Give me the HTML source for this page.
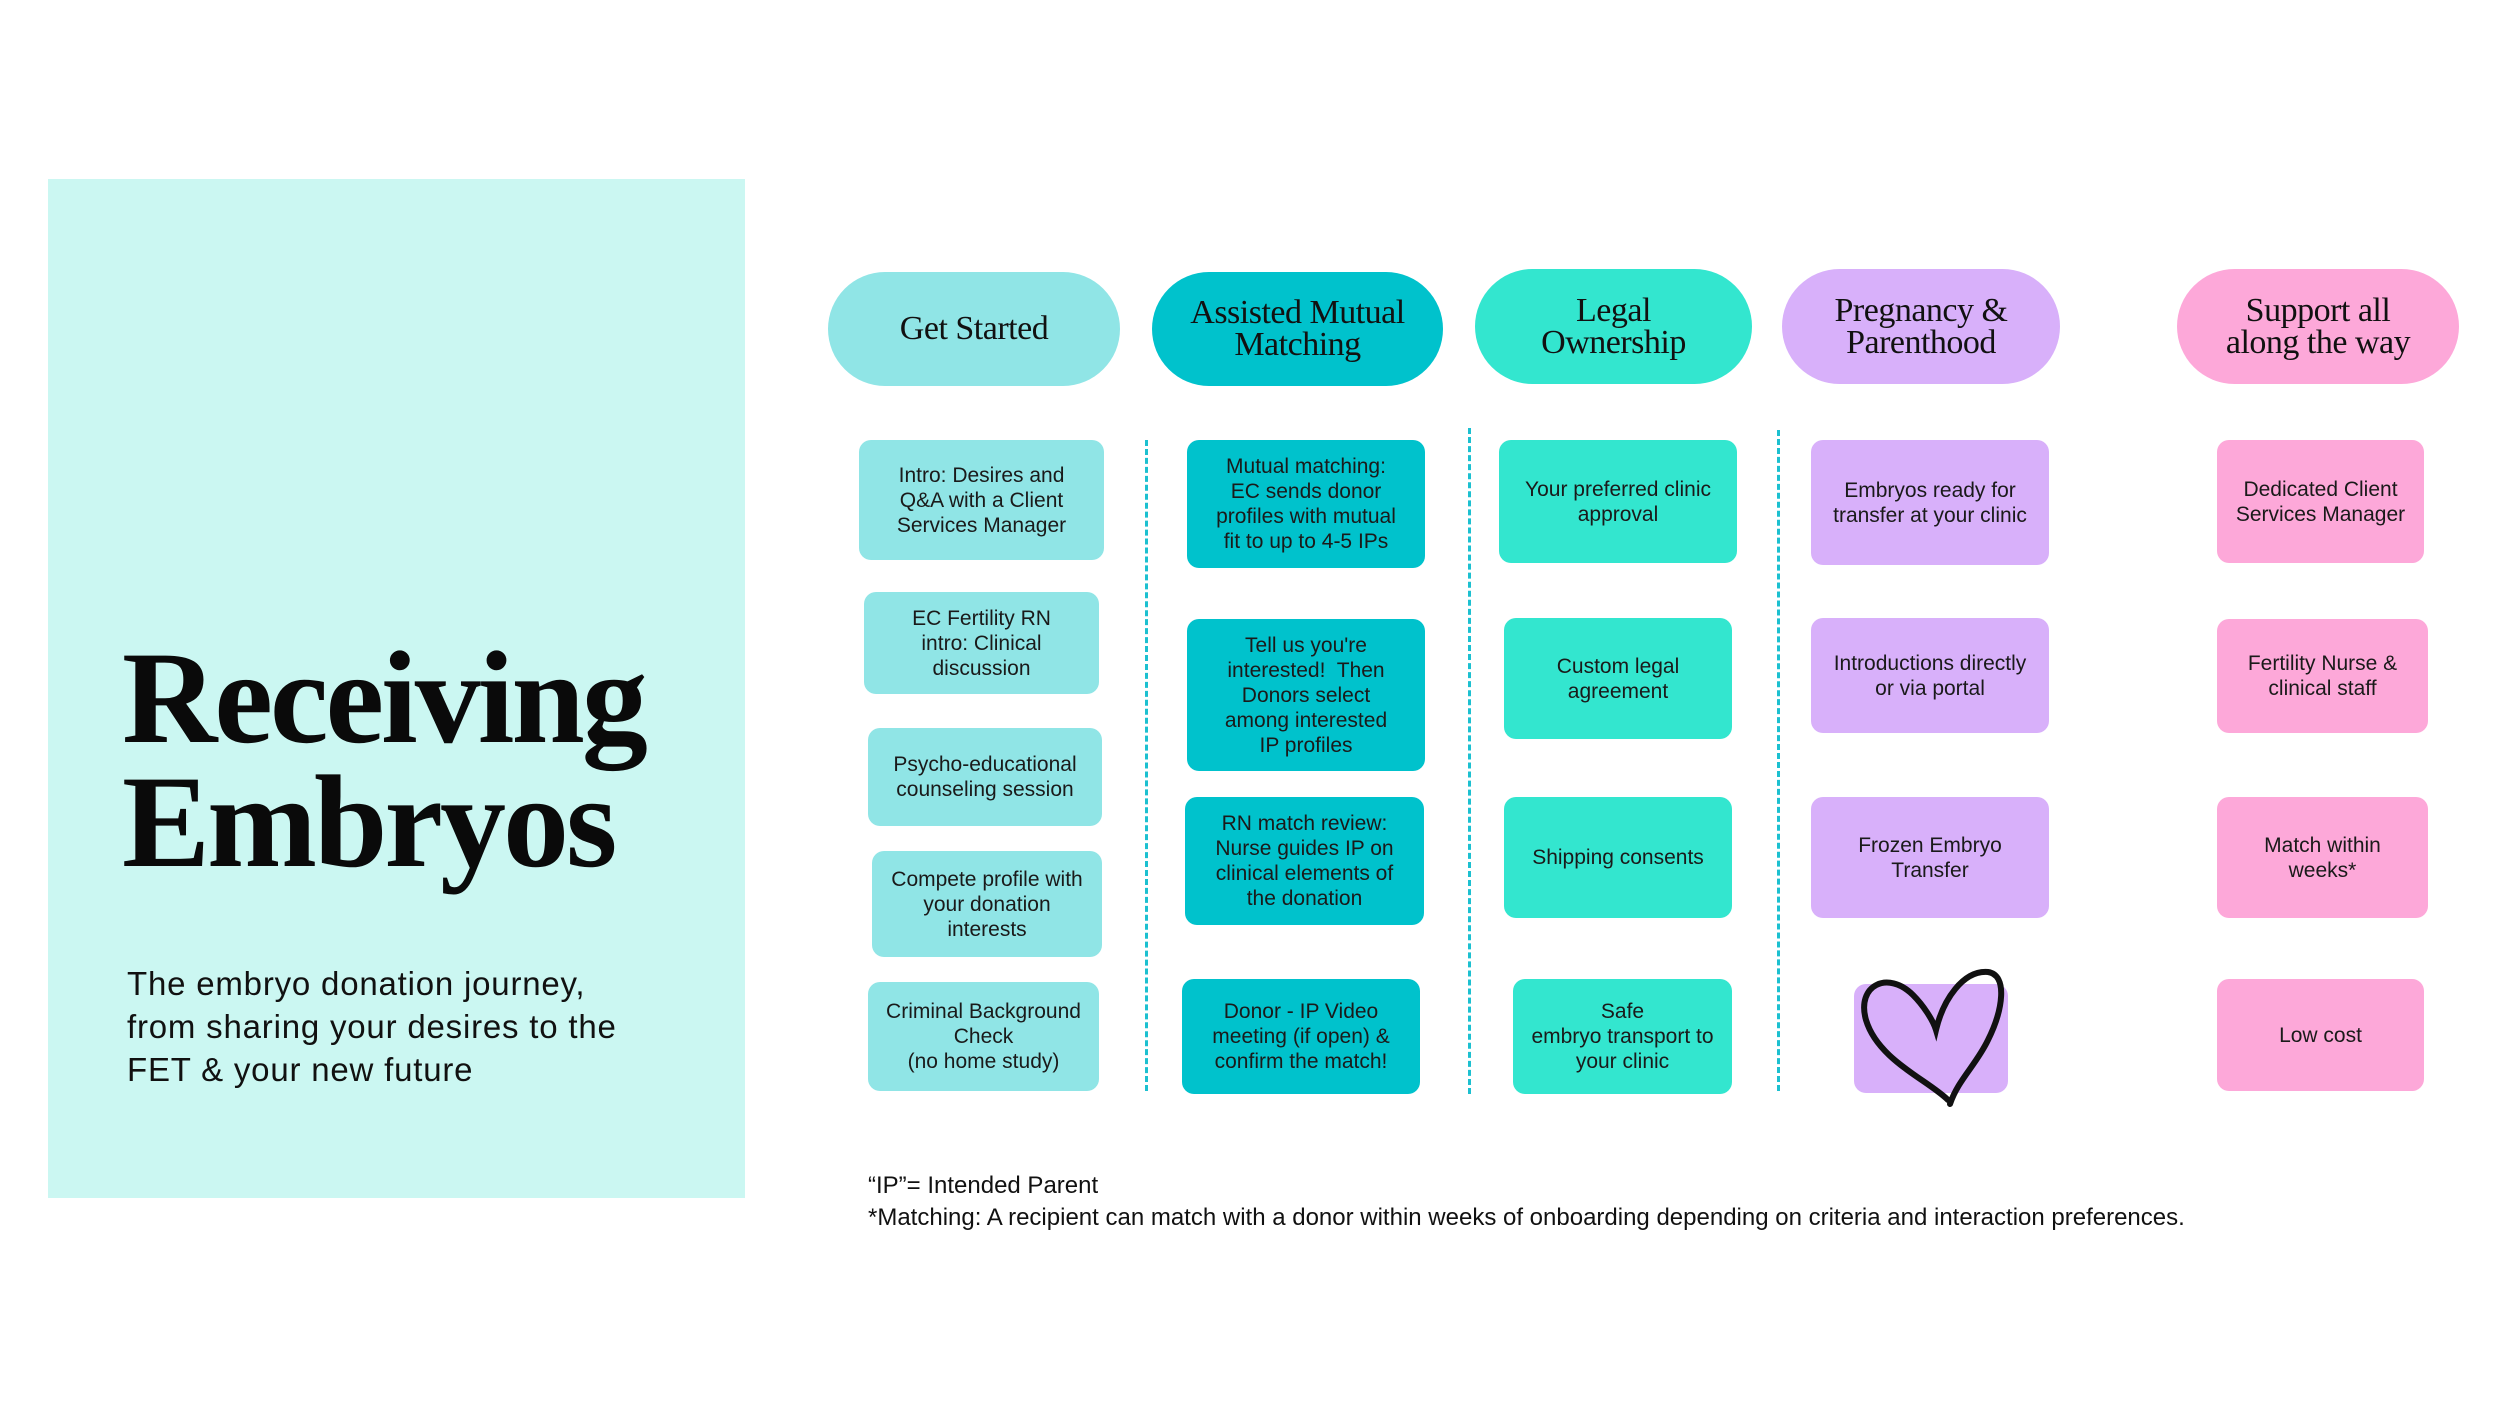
<!DOCTYPE html>
<html><head><meta charset="utf-8"><style>
body{margin:0;width:2500px;height:1406px;background:#fff;position:relative;overflow:hidden;font-family:"Liberation Sans",sans-serif;}
.a{position:absolute;box-sizing:border-box;}
.pill{position:absolute;border-radius:58px;display:flex;align-items:center;justify-content:center;text-align:center;font-family:"Liberation Serif",serif;font-size:34px;line-height:32px;color:#111;letter-spacing:-0.5px;}
.b{position:absolute;border-radius:12px;display:flex;align-items:center;justify-content:center;text-align:center;font-size:21px;line-height:25px;color:#1a1a1a;box-sizing:border-box;padding:0 22px;}
.c1{background:#90e5e6}.c2{background:#00c2cc}.c3{background:#33e6cf}.c4{background:#d8b0fa}.c5{background:#fda8d9}
.dl{position:absolute;width:0;border-left:3px dashed #1cc0d0;}
</style></head><body>
<div class="a" style="left:48px;top:179px;width:697px;height:1019px;background:#cbf7f2"></div>
<div class="a" style="left:122px;top:636px;font-family:'Liberation Serif',serif;font-weight:bold;font-size:132px;line-height:124px;color:#0a0a0a;letter-spacing:-3px">Receiving<br>Embryos</div>
<div class="a" style="left:127px;top:962px;font-size:33px;line-height:43px;color:#111;letter-spacing:0.8px">The embryo donation journey,<br>from sharing your desires to the<br>FET &amp; your new future</div>

<div class="pill c1" style="left:828px;top:272px;width:292px;height:114px">Get Started</div>
<div class="pill c2" style="left:1152px;top:272px;width:291px;height:114px">Assisted Mutual<br>Matching</div>
<div class="pill c3" style="left:1475px;top:269px;width:277px;height:115px">Legal<br>Ownership</div>
<div class="pill c4" style="left:1782px;top:269px;width:278px;height:115px">Pregnancy &amp;<br>Parenthood</div>
<div class="pill c5" style="left:2177px;top:269px;width:282px;height:115px">Support all<br>along the way</div>

<div class="dl" style="left:1145px;top:440px;height:651px"></div>
<div class="dl" style="left:1468px;top:428px;height:666px"></div>
<div class="dl" style="left:1777px;top:430px;height:661px"></div>

<div class="b c1" style="left:859px;top:440px;width:245px;height:120px">Intro: Desires and Q&amp;A with a Client Services Manager</div>
<div class="b c1" style="left:864px;top:592px;width:235px;height:102px;padding:0 40px">EC Fertility RN intro: Clinical discussion</div>
<div class="b c1" style="left:868px;top:728px;width:234px;height:98px">Psycho-educational counseling session</div>
<div class="b c1" style="left:872px;top:851px;width:230px;height:106px;padding:0 12px">Compete profile with your donation interests</div>
<div class="b c1" style="left:868px;top:982px;width:231px;height:109px;padding:0 10px">Criminal Background Check<br>(no home study)</div>

<div class="b c2" style="left:1187px;top:440px;width:238px;height:128px">Mutual matching: EC sends donor profiles with mutual fit to up to 4-5 IPs</div>
<div class="b c2" style="left:1187px;top:619px;width:238px;height:152px;padding:0 36px">Tell us you're interested!&nbsp; Then Donors select among interested IP profiles</div>
<div class="b c2" style="left:1185px;top:797px;width:239px;height:128px;padding:0 16px">RN match review: Nurse guides IP on clinical elements of the donation</div>
<div class="b c2" style="left:1182px;top:979px;width:238px;height:115px">Donor - IP Video meeting (if open) &amp; confirm the match!</div>

<div class="b c3" style="left:1499px;top:440px;width:238px;height:123px;padding:0 10px">Your preferred clinic approval</div>
<div class="b c3" style="left:1504px;top:618px;width:228px;height:121px;padding:0 40px">Custom legal agreement</div>
<div class="b c3" style="left:1504px;top:797px;width:228px;height:121px">Shipping consents</div>
<div class="b c3" style="left:1513px;top:979px;width:219px;height:115px;padding:0 8px">Safe<br>embryo transport to your clinic</div>

<div class="b c4" style="left:1811px;top:440px;width:238px;height:125px;padding:0 10px">Embryos ready for transfer at your clinic</div>
<div class="b c4" style="left:1811px;top:618px;width:238px;height:115px;padding:0 8px">Introductions directly<br>or via portal</div>
<div class="b c4" style="left:1811px;top:797px;width:238px;height:121px;padding:0 40px">Frozen Embryo Transfer</div>
<div class="b c4" style="left:1854px;top:984px;width:154px;height:109px"></div>
<svg class="a" style="left:0;top:0" width="2500" height="1406"><path d="M1948 1100 C1928 1080 1878 1060 1866 1020 C1856 985 1888 970 1913 995 C1923 1005 1933 1020 1936 1030 C1943 1000 1963 970 1988 972 C2008 975 2003 1010 1988 1040 C1976 1065 1958 1080 1950 1104" fill="none" stroke="#111" stroke-width="6" stroke-linecap="round"/></svg>

<div class="b c5" style="left:2217px;top:440px;width:207px;height:123px;padding:0 12px">Dedicated Client Services Manager</div>
<div class="b c5" style="left:2217px;top:619px;width:211px;height:114px">Fertility Nurse &amp; clinical staff</div>
<div class="b c5" style="left:2217px;top:797px;width:211px;height:121px;padding:0 45px">Match within weeks*</div>
<div class="b c5" style="left:2217px;top:979px;width:207px;height:112px">Low cost</div>

<div class="a" style="left:868px;top:1170px;font-size:24px;line-height:32px;color:#111">“IP”= Intended Parent<br>*Matching: A recipient can match with a donor within weeks of onboarding depending on criteria and interaction preferences.</div>
</body></html>
